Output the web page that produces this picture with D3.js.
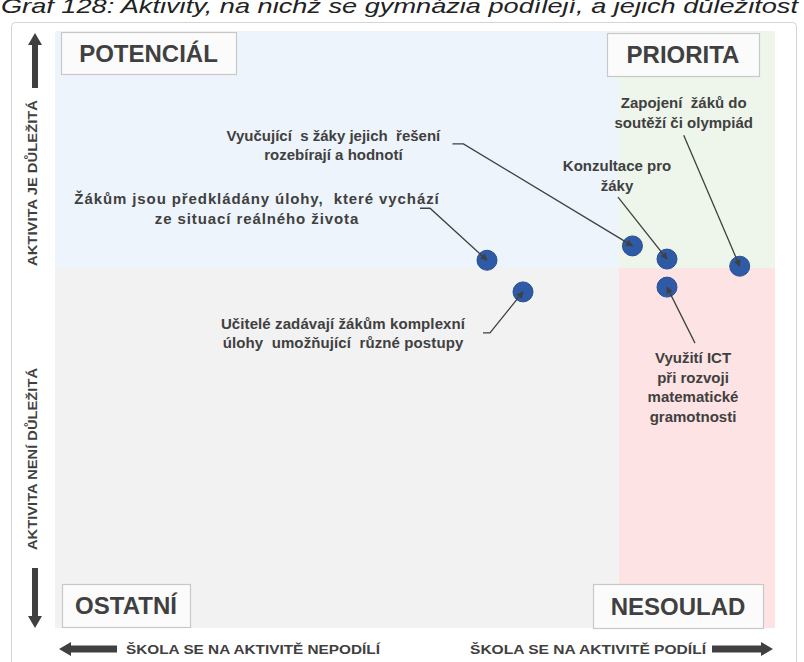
<!DOCTYPE html>
<html><head><meta charset="utf-8">
<script src="https://cdn.jsdelivr.net/npm/d3@7"></script>
<style>
html,body{margin:0;padding:0;background:#fff;}
svg{display:block;font-family:"Liberation Sans",Arial,sans-serif;}
</style></head>
<body>
<svg id="chart" width="804" height="662"></svg>
<script>
// ---- data ----
const title = "Graf 128: Aktivity, na nichž se gymnázia podílejí, a jejich důležitost";
const categories = [
  ["Žákům jsou předkládány úlohy,  které vychází", "ze situací reálného života"],
  ["Učitelé zadávají žákům komplexní", "úlohy  umožňující  různé postupy"],
  ["Vyučující  s žáky jejich  řešení", "rozebírají a hodnotí"],
  ["Konzultace pro", "žáky"],
  ["Zapojení  žáků do", "soutěží či olympiád"],
  ["Využití ICT", "při rozvoji", "matematické", "gramotnosti"]
];
const participation = [60, 65, 80.2, 85, 95.1, 85];      // x: school takes part
const importance = [61.6, 56.3, 64.0, 61.8, 60.6, 57.1];  // y: activity is important
const xThreshold = 78.3;
const yThreshold = 60.3;
const quadrantLabels = ["POTENCIÁL", "PRIORITA", "OSTATNÍ", "NESOULAD"];
const yAxisLabels = ["AKTIVITA  JE DŮLEŽITÁ", "AKTIVITA  NENÍ DŮLEŽITÁ"];
const xAxisLabels = ["ŠKOLA  SE NA AKTIVITĚ  NEPODÍLÍ", "ŠKOLA  SE NA AKTIVITĚ  PODÍLÍ"];

// ---- layout ----
const svg = d3.select("#chart");
const plot = {left: 55, right: 775, top: 31, bottom: 628};
const x = d3.scaleLinear().domain([0, 100]).range([plot.left, plot.right]);
const y = d3.scaleLinear().domain([0, 100]).range([plot.bottom, plot.top]);
const txt = "#404040";

// annotation layout: label centre offset (dx, dy of first baseline) and leader path offsets from the point
const annot = [
  {dx: -230, dy: -56, ls: 0.9, lead: [[-67, -52], [-57, -52]]},
  {dx: -180, dy: 37, ls: 0.1, lead: [[-40, 41], [-33, 41]]},
  {dx: -299, dy: -105, ls: 0, lead: [[-180, -102], [-169, -102]]},
  {dx: -50, dy: -88, ls: 0, lead: [[-49, -62]]},
  {dx: -56, dy: -158, ls: 0, lead: [[-56, -131]]},
  {dx: 26, dy: 76, ls: 0, lead: [[28, 56]]}
];

// title
svg.append("text").attr("x", 1).attr("y", 13)
  .attr("font-size", 21).attr("font-style", "italic").attr("fill", "#222")
  .attr("textLength", 797).attr("lengthAdjust", "spacingAndGlyphs")
  .text(title);

// outer frame
svg.append("rect").attr("x", 11.5).attr("y", 22.5).attr("width", 785).attr("height", 700)
  .attr("rx", 4).attr("fill", "#fff").attr("stroke", "#d4d4d4");

// quadrants
const quads = [
  {x0: 0, x1: xThreshold, y0: yThreshold, y1: 100, fill: "#edf4fb"},
  {x0: xThreshold, x1: 100, y0: yThreshold, y1: 100, fill: "#eef6ec"},
  {x0: 0, x1: xThreshold, y0: 0, y1: yThreshold, fill: "#f2f2f2"},
  {x0: xThreshold, x1: 100, y0: 0, y1: yThreshold, fill: "#fde3e3"}
];
svg.append("g").selectAll("rect").data(quads).join("rect")
  .attr("x", d => x(d.x0)).attr("y", d => y(d.y1))
  .attr("width", d => x(d.x1) - x(d.x0)).attr("height", d => y(d.y0) - y(d.y1))
  .attr("fill", d => d.fill);

// quadrant label boxes
const boxes = [
  {label: quadrantLabels[0], x: 61, y: 32, w: 175, h: 42},
  {label: quadrantLabels[1], x: 607, y: 33, w: 152, h: 43},
  {label: quadrantLabels[2], x: 62, y: 584, w: 128, h: 43},
  {label: quadrantLabels[3], x: 593, y: 584, w: 170, h: 44}
];
const bg = svg.append("g").selectAll("g").data(boxes).join("g");
bg.append("rect").attr("x", d => d.x + 0.5).attr("y", d => d.y + 0.5)
  .attr("width", d => d.w).attr("height", d => d.h)
  .attr("fill", "#fbfbfb").attr("stroke", "#c8c8c8").attr("stroke-width", 1.2);
bg.append("text").attr("x", d => d.x + d.w / 2).attr("y", d => d.y + d.h / 2 + 8.5)
  .attr("text-anchor", "middle").attr("font-size", 24).attr("font-weight", "bold")
  .attr("fill", txt).text(d => d.label);

// arrows
function arrowPath(x1, y1, x2, y2, shaft, head, headLen) {
  const len = Math.hypot(x2 - x1, y2 - y1);
  const ux = (x2 - x1) / len, uy = (y2 - y1) / len;
  const px = -uy, py = ux;
  const bx = x2 - ux * headLen, by = y2 - uy * headLen;
  const p = [
    [x1 + px * shaft / 2, y1 + py * shaft / 2],
    [bx + px * shaft / 2, by + py * shaft / 2],
    [bx + px * head / 2, by + py * head / 2],
    [x2, y2],
    [bx - px * head / 2, by - py * head / 2],
    [bx - px * shaft / 2, by - py * shaft / 2],
    [x1 - px * shaft / 2, y1 - py * shaft / 2]
  ];
  return "M" + p.map(q => q.join(",")).join("L") + "Z";
}
const arrows = svg.append("g").attr("fill", "#404040");
arrows.append("path").attr("d", arrowPath(35, 88, 35, 33, 6, 14, 12));
arrows.append("path").attr("d", arrowPath(35, 568, 35, 628, 6, 14, 12));
arrows.append("path").attr("d", arrowPath(117, 649, 59, 649, 7, 14, 12));
arrows.append("path").attr("d", arrowPath(712, 649, 773, 649, 7, 14, 12));

// axis labels
svg.append("text").attr("transform", "translate(37,183) rotate(-90)")
  .attr("text-anchor", "middle").attr("font-size", 13).attr("font-weight", "bold").attr("fill", txt)
  .attr("textLength", 166).attr("lengthAdjust", "spacingAndGlyphs").text(yAxisLabels[0]);
svg.append("text").attr("transform", "translate(37,459) rotate(-90)")
  .attr("text-anchor", "middle").attr("font-size", 13).attr("font-weight", "bold").attr("fill", txt)
  .attr("textLength", 182).attr("lengthAdjust", "spacingAndGlyphs").text(yAxisLabels[1]);
svg.append("text").attr("x", 126).attr("y", 654)
  .attr("font-size", 13).attr("font-weight", "bold").attr("fill", txt)
  .attr("textLength", 254).attr("lengthAdjust", "spacingAndGlyphs").text(xAxisLabels[0]);
svg.append("text").attr("x", 470).attr("y", 654)
  .attr("font-size", 13).attr("font-weight", "bold").attr("fill", txt)
  .attr("textLength", 236).attr("lengthAdjust", "spacingAndGlyphs").text(xAxisLabels[1]);

// points
const pts = participation.map((v, i) => ({x: v, y: importance[i], label: categories[i], a: annot[i]}));
svg.append("g").selectAll("circle").data(pts).join("circle")
  .attr("cx", d => x(d.x)).attr("cy", d => y(d.y)).attr("r", 10)
  .attr("fill", "#2f5aa6").attr("stroke", "#2a4f93").attr("stroke-width", 1);

// leader lines
svg.append("defs").append("marker").attr("id", "ah")
  .attr("viewBox", "0 0 10 10").attr("refX", 9).attr("refY", 5)
  .attr("markerWidth", 7).attr("markerHeight", 7).attr("orient", "auto")
  .attr("markerUnits", "userSpaceOnUse")
  .append("path").attr("d", "M0,0L10,5L0,10Z").attr("fill", "#404040");
svg.append("g").selectAll("path").data(pts).join("path")
  .attr("d", d => {
    const cx = x(d.x), cy = y(d.y);
    return d3.line()(d.a.lead.map(p => [cx + p[0], cy + p[1]]).concat([[cx, cy]]));
  })
  .attr("fill", "none").attr("stroke", "#404040").attr("stroke-width", 1.3)
  .attr("marker-end", "url(#ah)");

// labels
const lg = svg.append("g").selectAll("text").data(pts).join("text")
  .attr("text-anchor", "middle").attr("font-size", 15).attr("font-weight", "bold")
  .attr("fill", txt).style("white-space", "pre")
  .attr("letter-spacing", d => d.a.ls)
  .attr("x", d => x(d.x) + d.a.dx).attr("y", d => y(d.y) + d.a.dy);
lg.selectAll("tspan").data(d => d.label.map(t => ({t, x: x(d.x) + d.a.dx}))).join("tspan")
  .attr("x", t => t.x).attr("dy", (t, i) => i === 0 ? 0 : 19.5)
  .text(t => t.t);
</script>
</body></html>
